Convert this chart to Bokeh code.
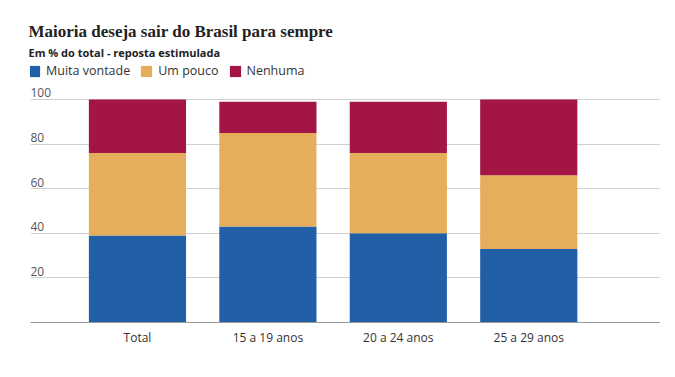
from bokeh.plotting import figure
from bokeh.models import ColumnDataSource, Legend, LegendItem, Title, FixedTicker, Range1d
from bokeh.embed import file_html
from bokeh.resources import INLINE
from bokeh.core.properties import value

categories = ["Total", "15 a 19 anos", "20 a 24 anos", "25 a 29 anos"]
muita_vontade = [39, 43, 40, 33]
um_pouco = [37, 42, 36, 33]
nenhuma = [24, 14, 23, 34]
series = ["Muita vontade", "Um pouco", "Nenhuma"]
colors = ["#215FA6", "#E6AD5A", "#A31545"]
y_ticks = [20, 40, 60, 80, 100]

x_pos = list(range(len(categories)))
source = ColumnDataSource(dict(x=x_pos, **{"Muita vontade": muita_vontade,
                                            "Um pouco": um_pouco,
                                            "Nenhuma": nenhuma}))

X_START, X_END = -0.82, 4.01
p = figure(frame_width=630, frame_height=261, output_backend="svg", toolbar_location=None,
           x_range=Range1d(X_START, X_END), y_range=Range1d(0, 117.0),
           min_border_left=30, min_border_right=0, min_border_bottom=32, min_border_top=61)

renderers = p.vbar_stack(series, x="x", width=0.745, source=source, color=colors, line_color=None)

legend = Legend(items=[LegendItem(label=s, renderers=[r]) for s, r in zip(series, renderers)],
                orientation="horizontal", location=(-3, 243),
                label_text_font="Open Sans", label_text_font_size="12.5px", label_text_color="#333333",
                glyph_width=14, glyph_height=14, label_standoff=5, spacing=9,
                padding=0, margin=0, border_line_color=None, background_fill_alpha=0,
                label_height=14)
p.add_layout(legend)

p.add_layout(Title(text="Em % do total - reposta estimulada", text_font="Open Sans",
                   text_font_size="11px", text_font_style="bold", text_color="#222222",
                   offset=-2, standoff=4), "above")
p.title.text = "Maioria deseja sair do Brasil para sempre"
p.title.text_font = "Liberation Serif"
p.title.text_font_size = "17px"
p.title.text_font_style = "bold"
p.title.text_color = "#222222"
p.title.offset = -2
p.title.standoff = 0

# y labels drawn above the gridlines, at the left edge of the frame
p.text(x=[X_START] * len(y_ticks), y=y_ticks, text=[str(t) for t in y_ticks],
       text_font=value("Open Sans"), text_font_size="12px", text_color="#555555",
       text_baseline="bottom", text_align="left", y_offset=-2)

p.yaxis.visible = False
p.ygrid.ticker = FixedTicker(ticks=y_ticks)
p.ygrid.grid_line_color = "#d0d0d0"
p.xgrid.grid_line_color = None

p.xaxis.ticker = FixedTicker(ticks=x_pos)
p.xaxis.major_label_overrides = {i: c for i, c in zip(x_pos, categories)}
p.xaxis.major_tick_line_color = None
p.xaxis.minor_tick_line_color = None
p.xaxis.axis_line_color = "#9a9a9a"
p.xaxis.major_label_text_font = "Open Sans"
p.xaxis.major_label_text_font_size = "12px"
p.xaxis.major_label_text_color = "#333333"
p.xaxis.major_label_standoff = 0

p.outline_line_color = None
p.background_fill_color = "white"

open("out.html", "w").write(file_html(p, INLINE))
